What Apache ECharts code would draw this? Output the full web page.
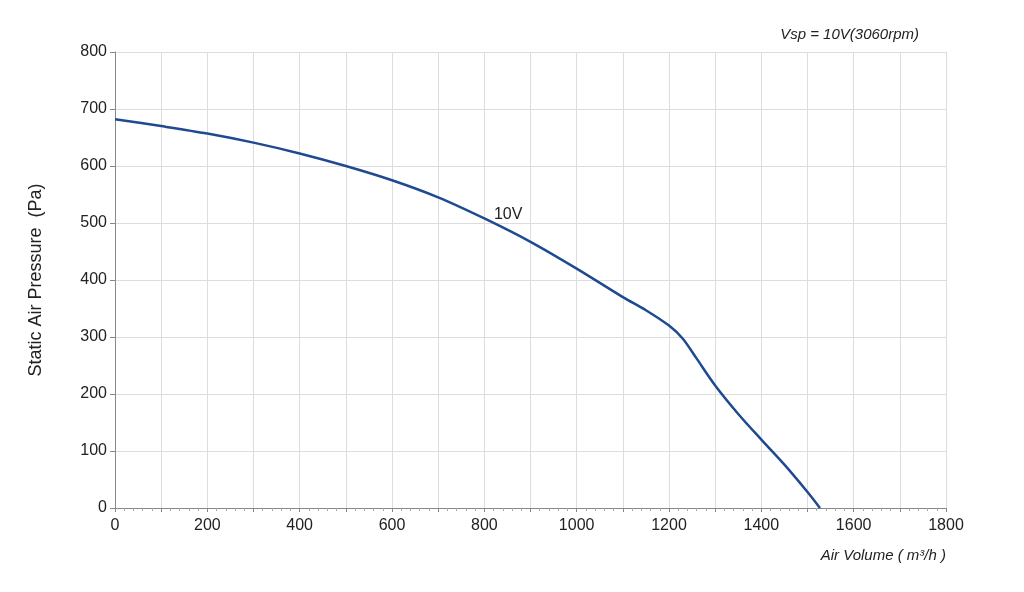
<!DOCTYPE html>
<html><head><meta charset="utf-8">
<script src="https://cdn.jsdelivr.net/npm/echarts@6/dist/echarts.min.js"></script>
<style>html,body{margin:0;padding:0;background:#fff}#c{width:1024px;height:592px}</style>
</head><body><div id="c"></div>
<script>
const airVolume = [0, 100, 200, 300, 400, 500, 600, 700, 800, 900, 1000, 1100, 1150, 1200, 1230, 1260, 1300, 1350, 1400, 1450, 1500, 1527];
const pressure  = [682, 670, 657, 641, 622, 600, 575, 545, 508, 467, 420, 370, 347, 320, 297, 262, 215, 165, 120, 76, 28, 0];
const curveLabel = '10V';
const labelAt = [810, 515];
const chart = echarts.init(document.getElementById('c'));
const font = 'Liberation Sans, Arial, sans-serif';
chart.setOption({
  animation: false,
  grid: {left: 115, right: 78, top: 52, bottom: 84},
  title: {text: 'Vsp = 10V(3060rpm)', right: 100, top: 22,
    textStyle: {fontSize: 15, fontStyle: 'italic', fontWeight: 'normal', color: '#222', fontFamily: font}},
  xAxis: {type: 'value', min: 0, max: 1800, interval: 100,
    name: 'Air Volume ( m³/h )', nameLocation: 'end', nameGap: 0,
    nameTextStyle: {fontStyle: 'italic', fontSize: 15, color: '#222', align: 'right', verticalAlign: 'top', padding: [40, 0, 0, 0], fontFamily: font},
    axisLine: {lineStyle: {color: '#888'}},
    axisTick: {show: true, length: 4, lineStyle: {color: '#888'}},
    minorTick: {show: true, splitNumber: 5, length: 3, lineStyle: {color: '#aaa'}},
    axisLabel: {fontSize: 16, color: '#222', fontFamily: font, margin: 10,
      formatter: v => (v % 200 === 0 ? String(v) : '')},
    splitLine: {lineStyle: {color: '#ddd'}}},
  yAxis: {type: 'value', min: 0, max: 800, interval: 100,
    name: 'Static Air Pressure  (Pa)', nameLocation: 'middle', nameGap: 70,
    nameTextStyle: {fontSize: 18, color: '#222', fontFamily: font},
    axisLine: {show: true, lineStyle: {color: '#888'}},
    axisLabel: {fontSize: 16, color: '#222', fontFamily: font},
    splitLine: {lineStyle: {color: '#ddd'}}},
  series: [{
    type: 'line', smooth: 0.3, symbol: 'none',
    data: airVolume.map((x, i) => [x, pressure[i]]),
    lineStyle: {color: '#1f4a92', width: 2.5},
    markPoint: {symbol: 'circle', symbolSize: 0,
      data: [{coord: labelAt, label: {show: true, formatter: curveLabel, fontSize: 16, color: '#222', fontFamily: font, position: 'right'}}]}
  }]
});
</script></body></html>
